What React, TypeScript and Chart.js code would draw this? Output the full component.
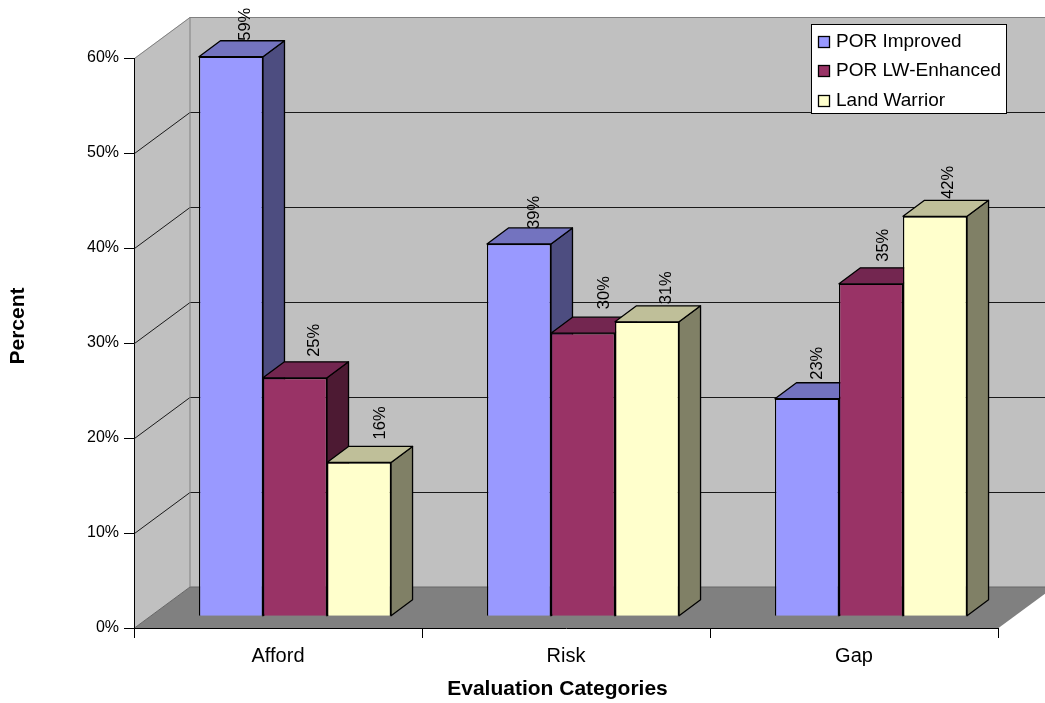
import React, { useEffect, useRef } from "react";
import { Chart, registerables } from "chart.js";

Chart.register(...registerables);

const categories = ["Afford", "Risk", "Gap"];
const porImproved = [58.9, 39.2, 22.9];
const porLwEnhanced = [25.1, 29.8, 35.0];
const landWarrior = [16.2, 31.0, 42.1];
const seriesNames = ["POR Improved", "POR LW-Enhanced", "Land Warrior"];
const frontColors = ["#9999FF", "#993366", "#FFFFCC"];
const sideColors = ["#4D4D80", "#4D1A33", "#808066"];
const topColors = ["#7373BF", "#732650", "#BFBF99"];
const yTicks = [0, 10, 20, 30, 40, 50, 60];
const xAxisTitle = "Evaluation Categories";
const yAxisTitle = "Percent";

// label placement relative to each bar's top face (series → category)
const labelNudgeX = [
  [14, 15.5, 10.5],
  [19, 21, 12.5],
  [21, 19, 13],
];
const labelGapY = [
  [0, -1, 3],
  [5, 8, 6],
  [7, 1.5, 1.5],
];

const FONT = '"Liberation Sans", Arial, sans-serif';
const WALL_DX = 55.5;
const WALL_DY = -41;
const BAR_DX = 17;
const BAR_DY = -11.7;
const SIDE_DX = 21.5;
const SIDE_DY = -16;

const threeD = {
  id: "threeD",
  beforeDraw(chart: any) {
    const { ctx, chartArea: a, scales } = chart;
    const y = scales.y;
    const W = chart.width;
    const L = a.left + 0.5;
    const R = a.right + 0.5;
    const B = y.getPixelForValue(0);
    const T = y.getPixelForValue(60);
    ctx.save();
    // back wall and side wall
    ctx.fillStyle = "#C0C0C0";
    ctx.beginPath();
    ctx.moveTo(L, B);
    ctx.lineTo(L, T);
    ctx.lineTo(L + WALL_DX, T + WALL_DY);
    ctx.lineTo(R + WALL_DX, T + WALL_DY);
    ctx.lineTo(R + WALL_DX, B + WALL_DY);
    ctx.lineTo(L + WALL_DX, B + WALL_DY);
    ctx.closePath();
    ctx.fill();
    // floor
    ctx.fillStyle = "#808080";
    ctx.beginPath();
    ctx.moveTo(L, B);
    ctx.lineTo(L + WALL_DX, B + WALL_DY);
    ctx.lineTo(R + WALL_DX, B + WALL_DY);
    ctx.lineTo(R, B);
    ctx.closePath();
    ctx.fill();
    // grid lines, following the y scale
    ctx.lineWidth = 1;
    yTicks.forEach((v) => {
      const p = Math.round(y.getPixelForValue(v)) + 0.5;
      if (v === 0) return;
      ctx.strokeStyle = v === 60 ? "#808080" : "#1a1a1a";
      ctx.beginPath();
      ctx.moveTo(L, p);
      ctx.lineTo(L + WALL_DX, p + WALL_DY);
      ctx.lineTo(Math.max(W, R + WALL_DX), p + WALL_DY);
      ctx.stroke();
    });
    ctx.strokeStyle = "#666666";
    ctx.beginPath();
    ctx.moveTo(L, B);
    ctx.lineTo(L + WALL_DX, B + WALL_DY);
    ctx.lineTo(W, B + WALL_DY);
    ctx.stroke();
    ctx.strokeStyle = "#808080";
    ctx.beginPath();
    ctx.moveTo(L + WALL_DX, T + WALL_DY);
    ctx.lineTo(L + WALL_DX, B + WALL_DY);
    ctx.stroke();
    ctx.restore();
  },
  beforeDatasetsDraw(chart: any) {
    const { ctx } = chart;
    ctx.save();
    ctx.translate(BAR_DX, BAR_DY);
    // sides and tops, left to right, behind all the front faces
    ctx.lineWidth = 1.3;
    ctx.strokeStyle = "#000";
    ctx.lineJoin = "round";
    chart.data.datasets.forEach((_: any, di: number) => {
      chart.getDatasetMeta(di).data.forEach((bar: any) => {
        const l = bar.x - bar.width / 2;
        const r = bar.x + bar.width / 2;
        const t = bar.y;
        const b = bar.base;
        ctx.fillStyle = sideColors[di];
        ctx.beginPath();
        ctx.moveTo(r, t);
        ctx.lineTo(r + SIDE_DX, t + SIDE_DY);
        ctx.lineTo(r + SIDE_DX, b + SIDE_DY);
        ctx.lineTo(r, b);
        ctx.closePath();
        ctx.fill();
        ctx.stroke();
        ctx.fillStyle = topColors[di];
        ctx.beginPath();
        ctx.moveTo(l, t);
        ctx.lineTo(l + SIDE_DX, t + SIDE_DY);
        ctx.lineTo(r + SIDE_DX, t + SIDE_DY);
        ctx.lineTo(r, t);
        ctx.closePath();
        ctx.fill();
        ctx.stroke();
      });
    });
  },
  afterDatasetsDraw(chart: any) {
    const { ctx } = chart;
    ctx.restore();
    // value labels
    ctx.save();
    ctx.fillStyle = "#000";
    ctx.font = `16.5px ${FONT}`;
    ctx.textAlign = "left";
    ctx.textBaseline = "middle";
    chart.data.datasets.forEach((ds: any, di: number) => {
      chart.getDatasetMeta(di).data.forEach((bar: any, ci: number) => {
        ctx.save();
        ctx.translate(
          bar.x + BAR_DX + labelNudgeX[di][ci],
          bar.y + BAR_DY + SIDE_DY - labelGapY[di][ci]
        );
        ctx.rotate(-Math.PI / 2);
        ctx.fillText(`${Math.round(ds.data[ci])}%`, 0, 0);
        ctx.restore();
      });
    });
    ctx.restore();
    // axis titles
    ctx.save();
    ctx.fillStyle = "#000";
    ctx.font = `bold 21px ${FONT}`;
    ctx.textAlign = "center";
    ctx.textBaseline = "middle";
    ctx.fillText(xAxisTitle, 557.5, 689.5);
    ctx.translate(18, 326);
    ctx.rotate(-Math.PI / 2);
    ctx.fillText(yAxisTitle, 0, 0);
    ctx.restore();
    // legend
    ctx.save();
    ctx.fillStyle = "#fff";
    ctx.strokeStyle = "#000";
    ctx.lineWidth = 1;
    ctx.fillRect(811.5, 24.5, 195, 89);
    ctx.strokeRect(811.5, 24.5, 195, 89);
    ctx.font = `19px ${FONT}`;
    ctx.textBaseline = "middle";
    ctx.textAlign = "left";
    seriesNames.forEach((name, i) => {
      const cy = 41 + i * 29.7;
      ctx.fillStyle = frontColors[i];
      ctx.fillRect(818.5, Math.round(cy - 5.5) + 0.5, 11, 11);
      ctx.lineWidth = 1.3;
      ctx.strokeRect(818.5, Math.round(cy - 5.5) + 0.5, 11, 11);
      ctx.fillStyle = "#000";
      ctx.fillText(name, 836, cy + 0.5);
    });
    ctx.restore();
  },
};

export default function App() {
  const ref = useRef<HTMLCanvasElement>(null);
  useEffect(() => {
    const chart = new Chart(ref.current!, {
      type: "bar",
      data: {
        labels: categories,
        datasets: [porImproved, porLwEnhanced, landWarrior].map((data, i) => ({
          label: seriesNames[i],
          data,
          backgroundColor: frontColors[i],
          borderColor: "#000",
          borderWidth: 1.3,
          clip: false as any,
          categoryPercentage: 0.667,
          barPercentage: 1,
        })),
      },
      options: {
        responsive: false,
        animation: false,
        devicePixelRatio: 1,
        layout: { padding: { left: 0, top: 58, right: 47, bottom: 0 } },
        plugins: { legend: { display: false }, tooltip: { enabled: false } },
        scales: {
          x: {
            offset: true,
            afterFit: (s: any) => {
              s.height = 75;
            },
            border: { color: "#000", width: 1 },
            grid: { drawOnChartArea: false, color: "#000", tickLength: 10, offset: true },
            ticks: {
              color: "#000",
              font: { family: FONT, size: 20 },
              padding: 6,
              maxRotation: 0,
            },
          },
          y: {
            min: 0,
            max: 60,
            afterFit: (s: any) => {
              s.width = 134;
            },
            border: { color: "#000", width: 1 },
            grid: { drawOnChartArea: false, color: "#000", tickLength: 10 },
            ticks: {
              color: "#000",
              stepSize: 10,
              font: { family: FONT, size: 16 },
              padding: 5,
              callback: (v: any) => `${v}%`,
            },
          },
        },
      },
      plugins: [threeD],
    });
    return () => chart.destroy();
  }, []);
  return (
    <div style={{ position: "absolute", left: 0, top: 0, width: 1045, height: 703 }}>
      <canvas ref={ref} width={1045} height={703} />
    </div>
  );
}
